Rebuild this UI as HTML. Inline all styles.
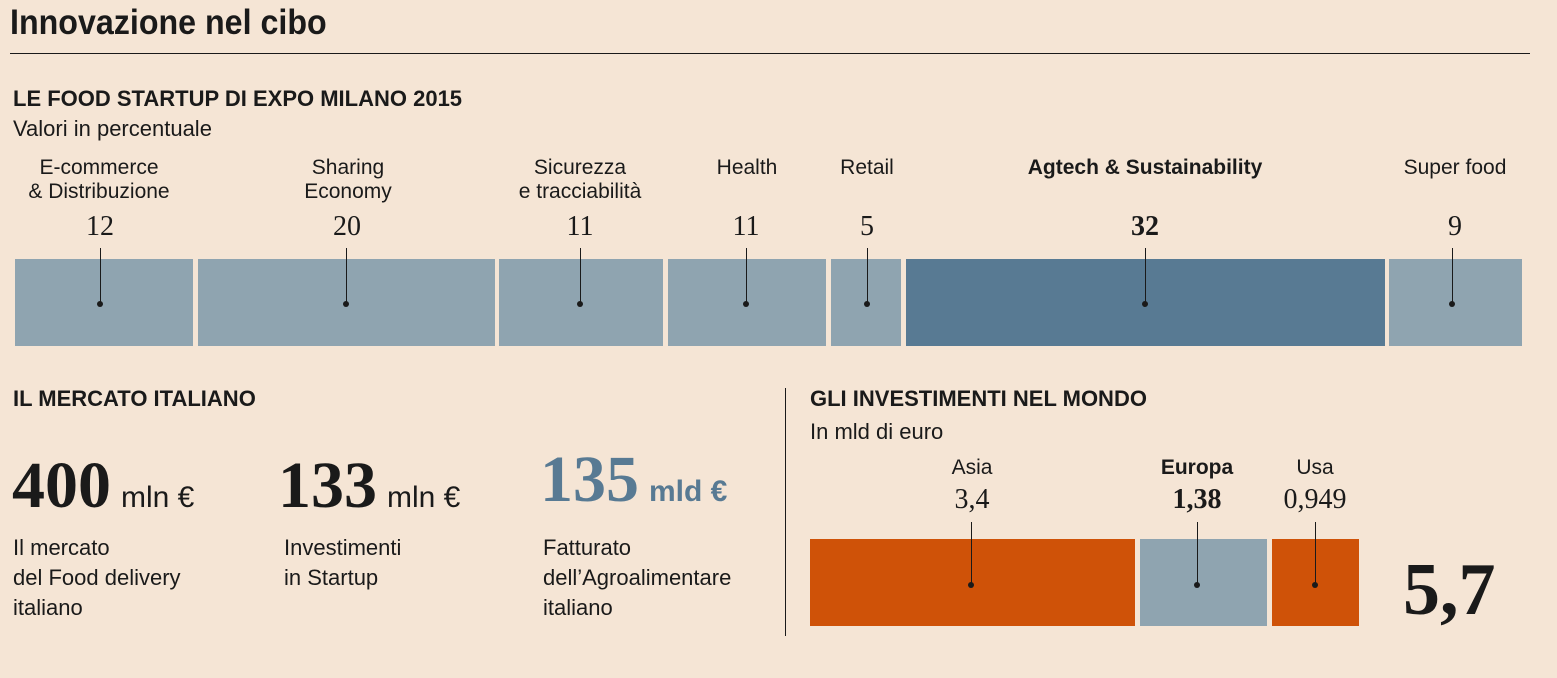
<!DOCTYPE html>
<html><head><meta charset="utf-8"><style>
body{margin:0;width:1557px;height:678px;background:#f5e5d5;position:relative;overflow:hidden;font-family:"Liberation Sans",sans-serif;color:#1a1a1a}
.a{position:absolute;white-space:nowrap}
.c{text-align:center;transform:translateX(-50%)}
.lab{font-size:21px;line-height:24px}
.num{font-family:"Liberation Serif",serif;font-size:28px}
.bar{position:absolute;background:#8fa4b0}
.ln{position:absolute;width:1px;background:#1a1a1a}
.dot{position:absolute;width:6px;height:6px;border-radius:3px;background:#1a1a1a}
.h{font-weight:bold;font-size:22px}
.big{font-family:"Liberation Serif",serif;font-weight:bold;font-size:66px}
.unit{font-size:30px;margin-left:10px}
.desc{font-size:22px;line-height:30px}
</style></head><body>
<div class="a" style="left:10px;top:3px;font-size:35px;font-weight:bold;transform:scaleX(0.92);transform-origin:left">Innovazione nel cibo</div>
<div class="a" style="left:10px;top:53px;width:1520px;height:1px;background:#1a1a1a"></div>
<div class="a h" style="left:13px;top:86px">LE FOOD STARTUP DI EXPO MILANO 2015</div>
<div class="a" style="left:13px;top:116px;font-size:22px">Valori in percentuale</div>

<div class="a c lab" style="left:99px;top:156px">E-commerce<br>&amp; Distribuzione</div>
<div class="a c lab" style="left:348px;top:156px">Sharing<br>Economy</div>
<div class="a c lab" style="left:580px;top:156px">Sicurezza<br>e tracciabilità</div>
<div class="a c lab" style="left:747px;top:156px">Health</div>
<div class="a c lab" style="left:867px;top:156px">Retail</div>
<div class="a c lab" style="left:1145px;top:156px;font-weight:bold">Agtech &amp; Sustainability</div>
<div class="a c lab" style="left:1455px;top:156px">Super food</div>

<div class="a c num" style="left:100px;top:211px">12</div>
<div class="a c num" style="left:347px;top:211px">20</div>
<div class="a c num" style="left:580px;top:211px">11</div>
<div class="a c num" style="left:746px;top:211px">11</div>
<div class="a c num" style="left:867px;top:211px">5</div>
<div class="a c num" style="left:1145px;top:211px;font-weight:bold">32</div>
<div class="a c num" style="left:1455px;top:211px">9</div>

<div class="bar" style="left:15px;top:259px;width:178px;height:87px"></div>
<div class="bar" style="left:198px;top:259px;width:297px;height:87px"></div>
<div class="bar" style="left:499px;top:259px;width:164px;height:87px"></div>
<div class="bar" style="left:668px;top:259px;width:158px;height:87px"></div>
<div class="bar" style="left:831px;top:259px;width:70px;height:87px"></div>
<div class="bar" style="left:906px;top:259px;width:479px;height:87px;background:#587a93"></div>
<div class="bar" style="left:1389px;top:259px;width:133px;height:87px"></div>

<div class="ln" style="left:100px;top:248px;height:56px"></div><div class="dot" style="left:97px;top:301px"></div>
<div class="ln" style="left:346px;top:248px;height:56px"></div><div class="dot" style="left:343px;top:301px"></div>
<div class="ln" style="left:580px;top:248px;height:56px"></div><div class="dot" style="left:577px;top:301px"></div>
<div class="ln" style="left:746px;top:248px;height:56px"></div><div class="dot" style="left:743px;top:301px"></div>
<div class="ln" style="left:867px;top:248px;height:56px"></div><div class="dot" style="left:864px;top:301px"></div>
<div class="ln" style="left:1145px;top:248px;height:56px"></div><div class="dot" style="left:1142px;top:301px"></div>
<div class="ln" style="left:1452px;top:248px;height:56px"></div><div class="dot" style="left:1449px;top:301px"></div>

<div class="a h" style="left:13px;top:386px">IL MERCATO ITALIANO</div>
<div class="a" style="left:12px;top:448px"><span class="big">400</span><span class="unit">mln €</span></div>
<div class="a" style="left:278px;top:448px"><span class="big">133</span><span class="unit">mln €</span></div>
<div class="a" style="left:540px;top:442px;color:#587a93;font-weight:bold"><span class="big">135</span><span class="unit">mld €</span></div>
<div class="a desc" style="left:13px;top:533px">Il mercato<br>del Food delivery<br>italiano</div>
<div class="a desc" style="left:284px;top:533px">Investimenti<br>in Startup</div>
<div class="a desc" style="left:543px;top:533px">Fatturato<br>dell’Agroalimentare<br>italiano</div>

<div class="a" style="left:785px;top:388px;width:1px;height:248px;background:#1a1a1a"></div>

<div class="a h" style="left:810px;top:386px">GLI INVESTIMENTI NEL MONDO</div>
<div class="a" style="left:810px;top:419px;font-size:22px">In mld di euro</div>
<div class="a c lab" style="left:972px;top:456px">Asia</div>
<div class="a c lab" style="left:1197px;top:456px;font-weight:bold">Europa</div>
<div class="a c lab" style="left:1315px;top:456px">Usa</div>
<div class="a c num" style="left:972px;top:484px">3,4</div>
<div class="a c num" style="left:1197px;top:484px;font-weight:bold">1,38</div>
<div class="a c num" style="left:1315px;top:484px">0,949</div>

<div class="bar" style="left:810px;top:539px;width:325px;height:87px;background:#cf5208"></div>
<div class="bar" style="left:1140px;top:539px;width:127px;height:87px"></div>
<div class="bar" style="left:1272px;top:539px;width:87px;height:87px;background:#cf5208"></div>
<div class="ln" style="left:971px;top:522px;height:64px"></div><div class="dot" style="left:968px;top:582px"></div>
<div class="ln" style="left:1197px;top:522px;height:64px"></div><div class="dot" style="left:1194px;top:582px"></div>
<div class="ln" style="left:1315px;top:522px;height:64px"></div><div class="dot" style="left:1312px;top:582px"></div>

<div class="a" style="left:1403px;top:548px;font-family:'Liberation Serif',serif;font-weight:bold;font-size:74px">5,7</div>
</body></html>
